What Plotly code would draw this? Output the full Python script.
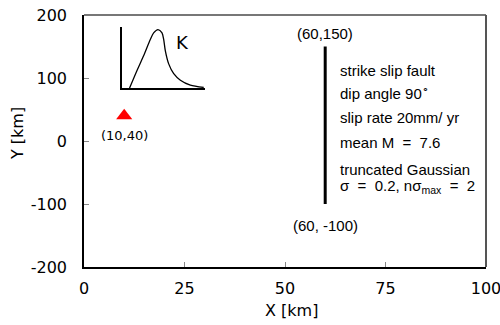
import plotly.graph_objects as go

# Fault trace end points (km)
fault_x = [60, 60]
fault_y = [150, -100]

# Site location (km)
site_x = [10]
site_y = [40]

# Magnitude density sketch for the inset (normalised units)
k_x = [0.093, 0.182, 0.261, 0.341, 0.381, 0.433, 0.481, 0.501, 0.521, 0.561, 0.621, 0.701, 0.820, 0.980]
k_y = [0.0, 0.295, 0.541, 0.814, 0.923, 0.978, 0.923, 0.814, 0.623, 0.405, 0.241, 0.131, 0.049, 0.011]

x_ticks = [0, 25, 50, 75, 100]
y_ticks = [-200, -100, 0, 100, 200]
y_tick_text = ["-200", "-100", "0", "100", "200"]

# Fault description lines: (text, y position in km)
info_lines = [
    ("strike slip fault", 112),
    ("dip angle 90<sup>∘</sup>", 77),
    ("slip rate 20mm/ yr", 38),
    ("mean M  =  7.6", -2),
    ("truncated Gaussian", -45),
    ("σ  =  0.2, nσ<sub>max</sub>  =  2", -72),
]

fig = go.Figure()

fig.add_trace(go.Scatter(
    x=fault_x, y=fault_y, mode="lines",
    line=dict(color="black", width=3), showlegend=False, hoverinfo="skip",
))
fig.add_trace(go.Scatter(
    x=site_x, y=site_y, mode="markers",
    marker=dict(symbol="triangle-up", color="red", size=14, line=dict(width=0)),
    showlegend=False, hoverinfo="skip",
))
fig.add_trace(go.Scatter(
    x=k_x, y=k_y, mode="lines", line=dict(color="black", width=1.3, shape="spline", smoothing=0.8),
    xaxis="x2", yaxis="y2", showlegend=False, hoverinfo="skip",
))

tick_font = dict(family="DejaVu Sans", size=16, color="black")
fig.update_layout(
    width=500, height=325,
    margin=dict(l=84, r=14, t=15, b=58),
    paper_bgcolor="white", plot_bgcolor="white",
    xaxis=dict(
        range=[0, 100], tickvals=x_ticks, ticks="inside", ticklen=5, tickcolor="#888",
        showgrid=False, zeroline=False, showline=True, linecolor="black", linewidth=1.5,
        tickfont=tick_font, ticklabelstandoff=6, automargin=False, ticklabeloverflow="allow",
    ),
    yaxis=dict(
        range=[-200, 200], tickvals=y_ticks, ticktext=y_tick_text, ticks="inside", ticklen=5,
        tickcolor="#888", showgrid=False, zeroline=False, showline=True, linecolor="black",
        linewidth=1.5, tickfont=tick_font, ticklabelstandoff=12, automargin=False,
        ticklabeloverflow="allow",
    ),
    xaxis2=dict(
        domain=[0.094, 0.302], anchor="y2", range=[0, 1],
        showline=True, linecolor="black", linewidth=1.5, showgrid=False, zeroline=False,
        showticklabels=False, ticks="",
    ),
    yaxis2=dict(
        domain=[0.71, 0.952], anchor="x2", range=[0, 1.02],
        showline=True, linecolor="black", linewidth=1.5, showgrid=False, zeroline=False,
        showticklabels=False, ticks="",
    ),
    shapes=[
        dict(type="line", xref="paper", yref="paper", x0=0, x1=1, y0=1, y1=1,
             line=dict(color="#777", width=2)),
        dict(type="line", xref="paper", yref="paper", x0=1, x1=1, y0=0, y1=1,
             line=dict(color="#555", width=2)),
    ],
)

label_font = dict(family="Liberation Sans", size=15, color="black")
ann = [
    dict(x=60, y=171, text="(60,150)", font=label_font),
    dict(x=60, y=-134, text="(60, -100)", font=label_font),
    dict(x=10, y=8, text="(10,40)", font=dict(family="DejaVu Sans", size=13, color="black")),
    dict(x=24.6, y=157, text="K", font=dict(family="DejaVu Sans", size=18, color="black")),
]
for text, yv in info_lines:
    ann.append(dict(x=63.2, y=yv, text=text, xanchor="left", font=label_font))
for a in ann:
    a.setdefault("xanchor", "center")
    a.update(xref="x", yref="y", yanchor="middle", showarrow=False)

# Axis titles
ann.append(dict(x=0.515, y=-0.171, xref="paper", yref="paper", text="X [km]",
                xanchor="center", yanchor="middle", showarrow=False, font=tick_font))
ann.append(dict(x=-0.164, y=0.528, xref="paper", yref="paper", text="Y [km]", textangle=-90,
                xanchor="center", yanchor="middle", showarrow=False, font=tick_font))
fig.update_layout(annotations=ann)

fig.write_html("out.html")
